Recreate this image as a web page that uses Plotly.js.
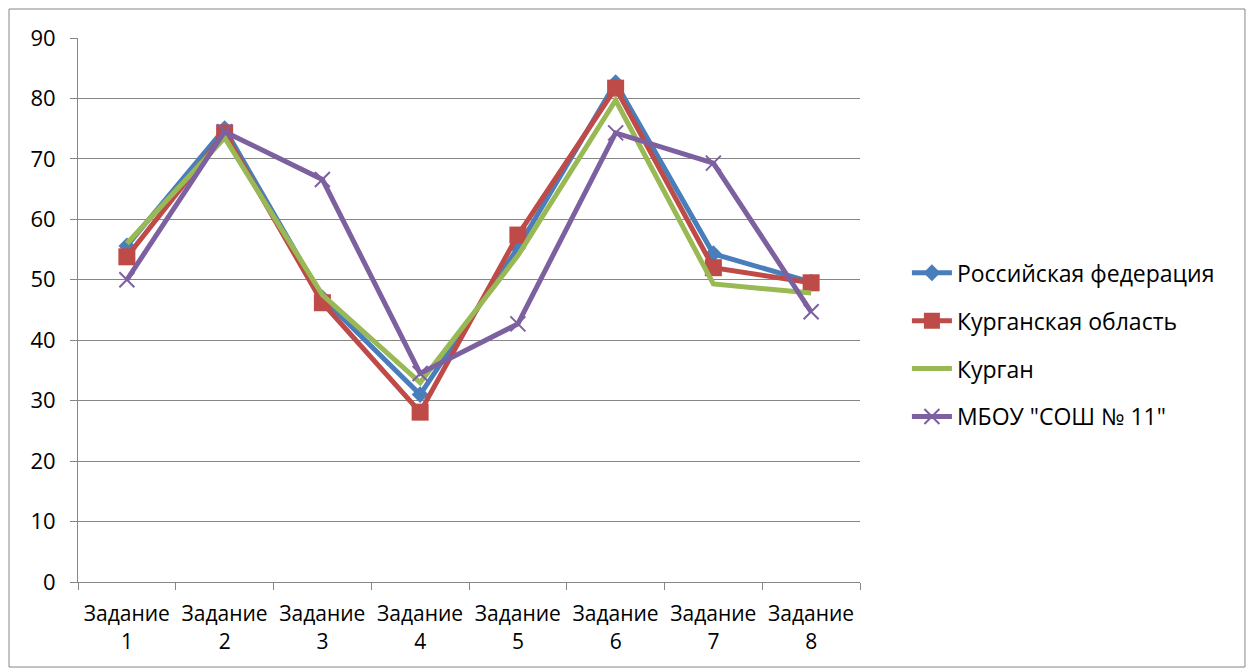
<!DOCTYPE html>
<html><head><meta charset="utf-8">
<script src="https://cdn.plot.ly/plotly-3.0.1.min.js"></script>
<style>body{margin:0;background:#fff}#c{width:1252px;height:672px}</style>
</head><body><div id="c"></div>
<script>
const categories = ["Задание<br>1","Задание<br>2","Задание<br>3","Задание<br>4","Задание<br>5","Задание<br>6","Задание<br>7","Задание<br>8"];
const seriesNames = ["Российская федерация","Курганская область","Курган","МБОУ \"СОШ № 11\""];
const rf = [55.6, 75.0, 47.0, 31.0, 55.3, 82.6, 54.3, 49.6];
const obl = [53.8, 74.3, 46.2, 28.1, 57.4, 81.7, 52.0, 49.5];
const kurgan = [56.0, 73.5, 47.5, 33.0, 54.0, 79.7, 49.3, 47.8];
const school = [50.0, 74.5, 66.6, 34.5, 42.7, 74.3, 69.3, 44.7];

const font = "Open Sans, Liberation Sans, sans-serif";
const traces = [
  {x: categories, y: rf, name: seriesNames[0], legendgroup: "a", mode: "lines+markers",
   line: {color: "#4A7EBB", width: 5}, marker: {symbol: "diamond", size: 13, color: "#4A7EBB"}},
  {x: categories, y: obl, name: seriesNames[1], legendgroup: "b", mode: "lines+markers",
   line: {color: "#BE4B48", width: 5}, marker: {symbol: "square", size: 17, color: "#BE4B48"}},
  {x: categories, y: kurgan, name: seriesNames[2], legendgroup: "c", mode: "lines",
   line: {color: "#98B954", width: 5}},
  {x: categories, y: school, name: seriesNames[3], legendgroup: "d", mode: "lines+markers",
   line: {color: "#7D60A0", width: 5}, marker: {symbol: "x-thin-open", size: 15, color: "#7D60A0", line: {color: "#7D60A0", width: 2}}}
];
const layout = {
  width: 1252, height: 672,
  margin: {l: 78, r: 392, t: 38, b: 90},
  paper_bgcolor: "#fff", plot_bgcolor: "#fff",
  font: {family: font, size: 22, color: "#000"},
  showlegend: true,
  legend: {x: 1.06, y: 0.436, yanchor: "middle", xanchor: "left", font: {size: 23, family: font},
           tracegroupgap: 15, itemwidth: 40},
  xaxis: {type: "category", range: [-0.5, 7.5], showline: true, linecolor: "#868686", linewidth: 1,
          ticks: "outside", tickson: "boundaries", ticklen: 7, tickcolor: "#868686", tickangle: 0,
          showgrid: false, zeroline: false, tickfont: {size: 21}, ticklabelstandoff: 13},
  yaxis: {range: [0, 90], dtick: 10, showline: true, linecolor: "#868686", linewidth: 1,
          ticks: "outside", ticklen: 7, tickcolor: "#868686", gridcolor: "#868686", gridwidth: 1,
          zeroline: false, tickfont: {size: 22}, ticklabelstandoff: 10},
  shapes: [{type: "rect", xref: "paper", yref: "paper", x0: -0.0882, x1: 1.4923, y0: -0.1563, y1: 1.0533,
            line: {color: "#868686", width: 1}, fillcolor: "rgba(0,0,0,0)"}]
};
Plotly.newPlot("c", traces, layout, {displayModeBar: false, staticPlot: true});
</script>
</body></html>
